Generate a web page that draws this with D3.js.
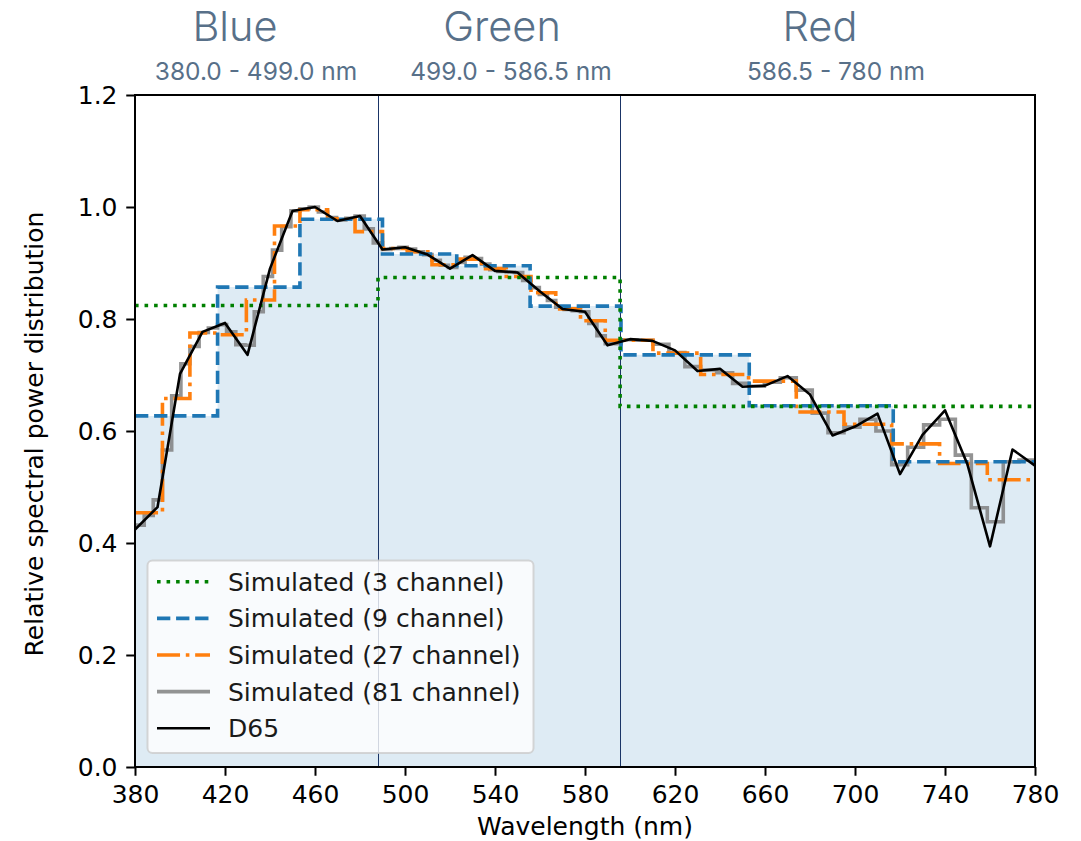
<!DOCTYPE html>
<html>
<head>
<meta charset="utf-8">
<script src="https://cdn.jsdelivr.net/npm/d3@7"></script>
<style>
  body { margin: 0; background: #ffffff; }
  svg { display: block; }
</style>
</head>
<body>
<svg id="chart" width="1081" height="841"></svg>
<script>
// ---- Data ---------------------------------------------------------------

// CIE D65 relative spectral power, normalised to its peak (10 nm grid)
const d65Wavelength = [380, 390, 400, 410, 420, 430, 440, 450, 460, 470, 480,
  490, 500, 510, 520, 530, 540, 550, 560, 570, 580, 590, 600, 610, 620, 630,
  640, 650, 660, 670, 680, 690, 700, 710, 720, 730, 740, 750, 760, 770, 780];
const d65Values = [0.424, 0.464, 0.702, 0.777, 0.793, 0.736, 0.890, 0.993, 1.000,
  0.975, 0.984, 0.924, 0.928, 0.915, 0.890, 0.914, 0.886, 0.883, 0.849, 0.818,
  0.813, 0.753, 0.764, 0.761, 0.744, 0.707, 0.711, 0.679, 0.681, 0.698, 0.665,
  0.592, 0.608, 0.631, 0.523, 0.593, 0.637, 0.540, 0.394, 0.567, 0.538];

// Simulated 3-channel response: band edges (nm) and level per band
const edges3 = [380, 488, 595.6, 780];
const sim3 = [0.824, 0.874, 0.644];

// Simulated 9-channel response
const edges9 = [380, 416.7, 453.3, 490, 523, 555.6, 596, 653, 717, 780];
const sim9 = [0.627, 0.857, 0.978, 0.916, 0.895, 0.823, 0.736, 0.645, 0.545];

// Simulated 27-channel response
const edges27 = [380, 392.2, 404.4, 416.7, 429.5, 442, 453.3, 465.6, 477.8, 490,
  501, 512, 523, 534, 545, 556, 567, 578, 589,
  610.2, 631.4, 652.7, 673.9, 695.1, 716.3, 737.6, 758.8, 780];
const sim27 = [0.454, 0.658, 0.775, 0.772, 0.834, 0.966, 0.995, 0.979, 0.956,
  0.926, 0.920, 0.897, 0.907, 0.890, 0.876, 0.847, 0.818, 0.797,
  0.762, 0.739, 0.701, 0.689, 0.634, 0.612, 0.577, 0.542, 0.513];

// Simulated 81-channel response
const edges81 = [380, 384.1, 388.1, 392.2, 396.3, 400.4, 404.4, 408.5, 412.6,
  416.7, 420.7, 424.8, 428.9, 433.0, 437.0, 441.1, 445.2, 449.3, 453.3, 457.4,
  461.5, 465.6, 469.6, 473.7, 477.8, 481.9, 485.9, 490,
  493.7, 497.3, 501, 504.7, 508.3, 512, 515.7, 519.3, 523, 526.7, 530.3, 534,
  537.7, 541.3, 545, 548.7, 552.3, 556, 559.7, 563.3, 567, 570.7, 574.3, 578,
  581.7, 585.3, 589,
  596.1, 603.1, 610.2, 617.3, 624.4, 631.4, 638.5, 645.6, 652.7, 659.7, 666.8,
  673.9, 681.0, 688.0, 695.1, 702.2, 709.3, 716.3, 723.4, 730.5, 737.6, 744.6,
  751.7, 758.8, 765.9, 772.9, 780];
const sim81 = [0.432, 0.449, 0.477, 0.566, 0.663, 0.720, 0.751, 0.776, 0.784,
  0.790, 0.777, 0.754, 0.753, 0.813, 0.876, 0.923, 0.965, 0.993, 0.997, 1.000,
  0.991, 0.981, 0.977, 0.980, 0.984, 0.961, 0.936,
  0.924, 0.926, 0.928, 0.925, 0.920, 0.915, 0.905, 0.896, 0.892, 0.901, 0.910,
  0.908, 0.898, 0.888, 0.885, 0.884, 0.883, 0.869, 0.856, 0.844, 0.833, 0.821,
  0.817, 0.815, 0.813, 0.792, 0.770,
  0.756, 0.763, 0.762, 0.755, 0.740, 0.715, 0.709, 0.704, 0.685, 0.680, 0.687,
  0.695, 0.673, 0.632, 0.597, 0.607, 0.621, 0.600, 0.540, 0.571, 0.611, 0.621,
  0.557, 0.463, 0.438, 0.545, 0.548];

// Band boundaries marked on the plot and the band captions above it
const bandBoundaries = [488, 595.6];
const bandNames = ["Blue", "Green", "Red"];
const bandRanges = ["380.0 - 499.0 nm", "499.0 - 586.5 nm", "586.5 - 780 nm"];

// Axis ticks
const xTicks = [380, 420, 460, 500, 540, 580, 620, 660, 700, 740, 780];
const yTicks = [0.0, 0.2, 0.4, 0.6, 0.8, 1.0, 1.2];

const legendLabels = ["Simulated (3 channel)", "Simulated (9 channel)",
  "Simulated (27 channel)", "Simulated (81 channel)", "D65"];

// ---- Layout -------------------------------------------------------------

const plot = { left: 135, right: 1035, top: 95, bottom: 767 };
const bandNameX = [235, 502, 820];
const bandRangeX = [256, 511, 836];
const FONT = "'DejaVu Sans', sans-serif";
const CAPTION_FONT = "Inter, 'Noto Sans', sans-serif";
const CAPTION_COLOR = "#587089";

const svg = d3.select("#chart");

const x = d3.scaleLinear().domain([380, 780]).range([plot.left, plot.right]);
const y = d3.scaleLinear().domain([0, 1.2]).range([plot.bottom, plot.top]);

svg.append("defs").append("clipPath").attr("id", "plot-clip")
  .append("rect")
  .attr("x", plot.left).attr("y", plot.top)
  .attr("width", plot.right - plot.left).attr("height", plot.bottom - plot.top);

// step series: one point per edge, the last edge repeats the final level
const stepPoints = (edges, values) =>
  edges.map((e, i) => [e, values[Math.min(i, values.length - 1)]]);

const stepLine = d3.line().x(d => x(d[0])).y(d => y(d[1])).curve(d3.curveStepAfter);
const stepArea = d3.area().x(d => x(d[0])).y0(y(0)).y1(d => y(d[1])).curve(d3.curveStepAfter);

const plotG = svg.append("g").attr("clip-path", "url(#plot-clip)");

// shaded area under the 9-channel response
plotG.append("path")
  .attr("d", stepArea(stepPoints(edges9, sim9)))
  .attr("fill", "#1f77b4").attr("fill-opacity", 0.15);

// band boundary lines
plotG.selectAll("line.band").data(bandBoundaries).join("line")
  .attr("class", "band")
  .attr("x1", d => x(d)).attr("x2", d => x(d))
  .attr("y1", plot.top).attr("y2", plot.bottom)
  .attr("stroke", "#1a3466").attr("stroke-width", 1)
  .attr("shape-rendering", "crispEdges");

const LW = 3.6;
const series = [
  { key: "81", edges: edges81, values: sim81, color: "#808080", dash: null, width: LW, opacity: 0.85 },
  { key: "27", edges: edges27, values: sim27, color: "#ff7f0e", dash: [6.4 * LW, 1.6 * LW, 1 * LW, 1.6 * LW], width: LW, opacity: 1 },
  { key: "9", edges: edges9, values: sim9, color: "#1f77b4", dash: [3.7 * LW, 1.6 * LW], width: LW, opacity: 1 },
  { key: "3", edges: edges3, values: sim3, color: "#008000", dash: [1 * LW, 1.65 * LW], width: LW, opacity: 1 }
];

series.forEach(s => {
  plotG.append("path")
    .attr("d", stepLine(stepPoints(s.edges, s.values)))
    .attr("fill", "none")
    .attr("stroke", s.color)
    .attr("stroke-width", s.width)
    .attr("stroke-opacity", s.opacity)
    .attr("stroke-dasharray", s.dash ? s.dash.join(",") : null);
});

// D65 reference curve
const d65Line = d3.line().x((d, i) => x(d65Wavelength[i])).y(d => y(d));
plotG.append("path")
  .attr("d", d65Line(d65Values))
  .attr("fill", "none").attr("stroke", "#000").attr("stroke-width", 2.6)
  .attr("stroke-linejoin", "round");

// ---- Axes ---------------------------------------------------------------

const xAxis = d3.axisBottom(x).tickValues(xTicks).tickFormat(d3.format("d"))
  .tickSize(8.75).tickPadding(9.5);
const yAxis = d3.axisLeft(y).tickValues(yTicks).tickFormat(d3.format(".1f"))
  .tickSize(8.75).tickPadding(8.75);

const gx = svg.append("g").attr("transform", `translate(0,${plot.bottom})`).call(xAxis);
const gy = svg.append("g").attr("transform", `translate(${plot.left},0)`).call(yAxis);
[gx, gy].forEach(g => {
  g.select(".domain").remove();
  g.selectAll(".tick line").attr("stroke", "#000").attr("stroke-width", 2);
  g.selectAll(".tick text").attr("fill", "#000")
    .style("font-family", FONT).style("font-size", "25px");
});

// frame
svg.append("rect")
  .attr("x", plot.left).attr("y", plot.top)
  .attr("width", plot.right - plot.left).attr("height", plot.bottom - plot.top)
  .attr("fill", "none").attr("stroke", "#000").attr("stroke-width", 2);

svg.append("text")
  .attr("x", (plot.left + plot.right) / 2).attr("y", 835)
  .attr("text-anchor", "middle")
  .style("font-family", FONT).style("font-size", "25px")
  .text("Wavelength (nm)");

svg.append("text")
  .attr("transform", `translate(43,${(plot.top + plot.bottom) / 2 + 3}) rotate(-90)`)
  .attr("text-anchor", "middle")
  .style("font-family", FONT).style("font-size", "25px")
  .text("Relative spectral power distribution");

// ---- Band captions ------------------------------------------------------

svg.selectAll("text.band-name").data(bandNames).join("text")
  .attr("class", "band-name")
  .attr("x", (d, i) => bandNameX[i]).attr("y", 41)
  .attr("text-anchor", "middle")
  .attr("fill", CAPTION_COLOR)
  .style("font-family", CAPTION_FONT).style("font-size", "41.5px").style("font-weight", 300)
  .text(d => d);

svg.selectAll("text.band-range").data(bandRanges).join("text")
  .attr("class", "band-range")
  .attr("x", (d, i) => bandRangeX[i]).attr("y", 80)
  .attr("text-anchor", "middle")
  .attr("fill", CAPTION_COLOR)
  .style("font-family", CAPTION_FONT).style("font-size", "24.5px").style("font-weight", 400)
  .text(d => d);

// ---- Legend -------------------------------------------------------------

const legend = svg.append("g");
legend.append("rect")
  .attr("x", 147.5).attr("y", 560.5).attr("width", 386).attr("height", 192.5)
  .attr("rx", 5).attr("ry", 5)
  .attr("fill", "#ffffff").attr("fill-opacity", 0.8)
  .attr("stroke", "#cccccc").attr("stroke-opacity", 0.8).attr("stroke-width", 2);

const legendStyles = [
  { color: "#008000", dash: [1 * LW, 1.65 * LW], width: LW, opacity: 1 },
  { color: "#1f77b4", dash: [3.7 * LW, 1.6 * LW], width: LW, opacity: 1 },
  { color: "#ff7f0e", dash: [6.4 * LW, 1.6 * LW, 1 * LW, 1.6 * LW], width: LW, opacity: 1 },
  { color: "#808080", dash: null, width: LW, opacity: 0.85 },
  { color: "#000000", dash: null, width: 2.6, opacity: 1 }
];

const rows = legend.selectAll("g.row").data(legendLabels).join("g")
  .attr("class", "row")
  .attr("transform", (d, i) => `translate(0,${581.7 + i * 36.65})`);

rows.append("line")
  .attr("x1", 157).attr("x2", 210).attr("y1", 0).attr("y2", 0)
  .attr("stroke", (d, i) => legendStyles[i].color)
  .attr("stroke-width", (d, i) => legendStyles[i].width)
  .attr("stroke-opacity", (d, i) => legendStyles[i].opacity)
  .attr("stroke-dasharray", (d, i) => legendStyles[i].dash ? legendStyles[i].dash.join(",") : null);

rows.append("text")
  .attr("x", 228).attr("y", 9)
  .attr("fill", "#1a1a1a")
  .style("font-family", FONT).style("font-size", "25px")
  .text(d => d);
</script>
</body>
</html>
